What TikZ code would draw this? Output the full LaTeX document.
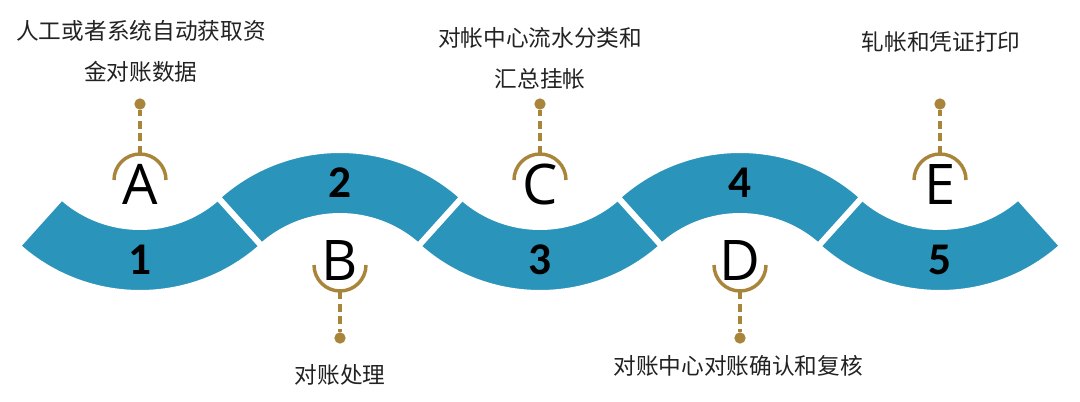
\documentclass[tikz,border=0pt]{standalone}
\usepackage{fontspec}
\setmainfont{Noto Sans CJK SC}
\newfontfamily\letterfont{Open Sans}
\newfontfamily\numfont{Carlito}
\definecolor{bandblue}{HTML}{2A94BA}
\definecolor{pingold}{HTML}{A8853B}
\definecolor{capgray}{HTML}{222222}
\tikzset{
  band/.style={fill=bandblue, draw=white, line width=4.5pt},
  stepnum/.style={font=\numfont\bfseries\fontsize{34}{34}\selectfont, text=black, inner sep=0pt},
  letter/.style={font=\letterfont\fontsize{42}{42}\selectfont, inner sep=0pt, anchor=base},
  pinarc/.style={draw=pingold, line width=2.6pt},
  pinline/.style={draw=pingold, line width=2.6pt, dash pattern=on 6pt off 3.5pt},
  pindot/.style={circle, fill=pingold, inner sep=0pt, minimum size=8.5pt},
  caption/.style={font=\fontsize{17}{30.75}\selectfont, text=capgray, inner sep=0pt, align=center}
}
\begin{document}
\begin{tikzpicture}[x=0.75pt,y=0.75pt]
\useasboundingbox (0,0) rectangle (1080,401);
% lower bends of the band
\foreach \i/\x in {1/140,3/540,5/940} {
  \path[band] (\x,291) ++(-132:183) arc[start angle=-132, end angle=-48, radius=183]
    -- ++(132:66) arc[start angle=-48, end angle=-132, radius=117] -- cycle;
  \node[stepnum] (num\i) at (\x,141) {\i};
}
% upper bends of the band
\foreach \i/\x in {2/340,4/740} {
  \path[band] (\x,68) ++(48:183) arc[start angle=48, end angle=132, radius=183]
    -- ++(-48:66) arc[start angle=132, end angle=48, radius=117] -- cycle;
  \node[stepnum] (num\i) at (\x,218) {\i};
}
% pins above
\foreach \n/\x in {A/140,C/540,E/940} {
  \node[letter] (\n) at (\x,197) {\n};
  \draw[pinarc] (\x+26,221) arc[start angle=0, end angle=180, radius=26];
  \coordinate (top\n) at (\x,247);
  \node[pindot] (dot\n) at (\x,297) {};
  \draw[pinline] (top\n) -- (dot\n);
}
% pins below
\foreach \n/\x in {B/340,D/740} {
  \node[letter] (\n) at (\x,121) {\n};
  \draw[pinarc] (\x-26,136) arc[start angle=180, end angle=360, radius=26];
  \coordinate (top\n) at (\x,110);
  \node[pindot] (dot\n) at (\x,63) {};
  \draw[pinline] (top\n) -- (dot\n);
}
\node[caption] (capA) at (141,349.5) {人工或者系统自动获取资\\金对账数据};
\node[caption] (capB) at (340,26) {对账处理};
\node[caption] (capC) at (540,342.75) {对帐中心流水分类和\\汇总挂帐};
\node[caption] (capD) at (738,35) {对账中心对账确认和复核};
\node[caption] (capE) at (941,359) {轧帐和凭证打印};
\end{tikzpicture}
\end{document}
